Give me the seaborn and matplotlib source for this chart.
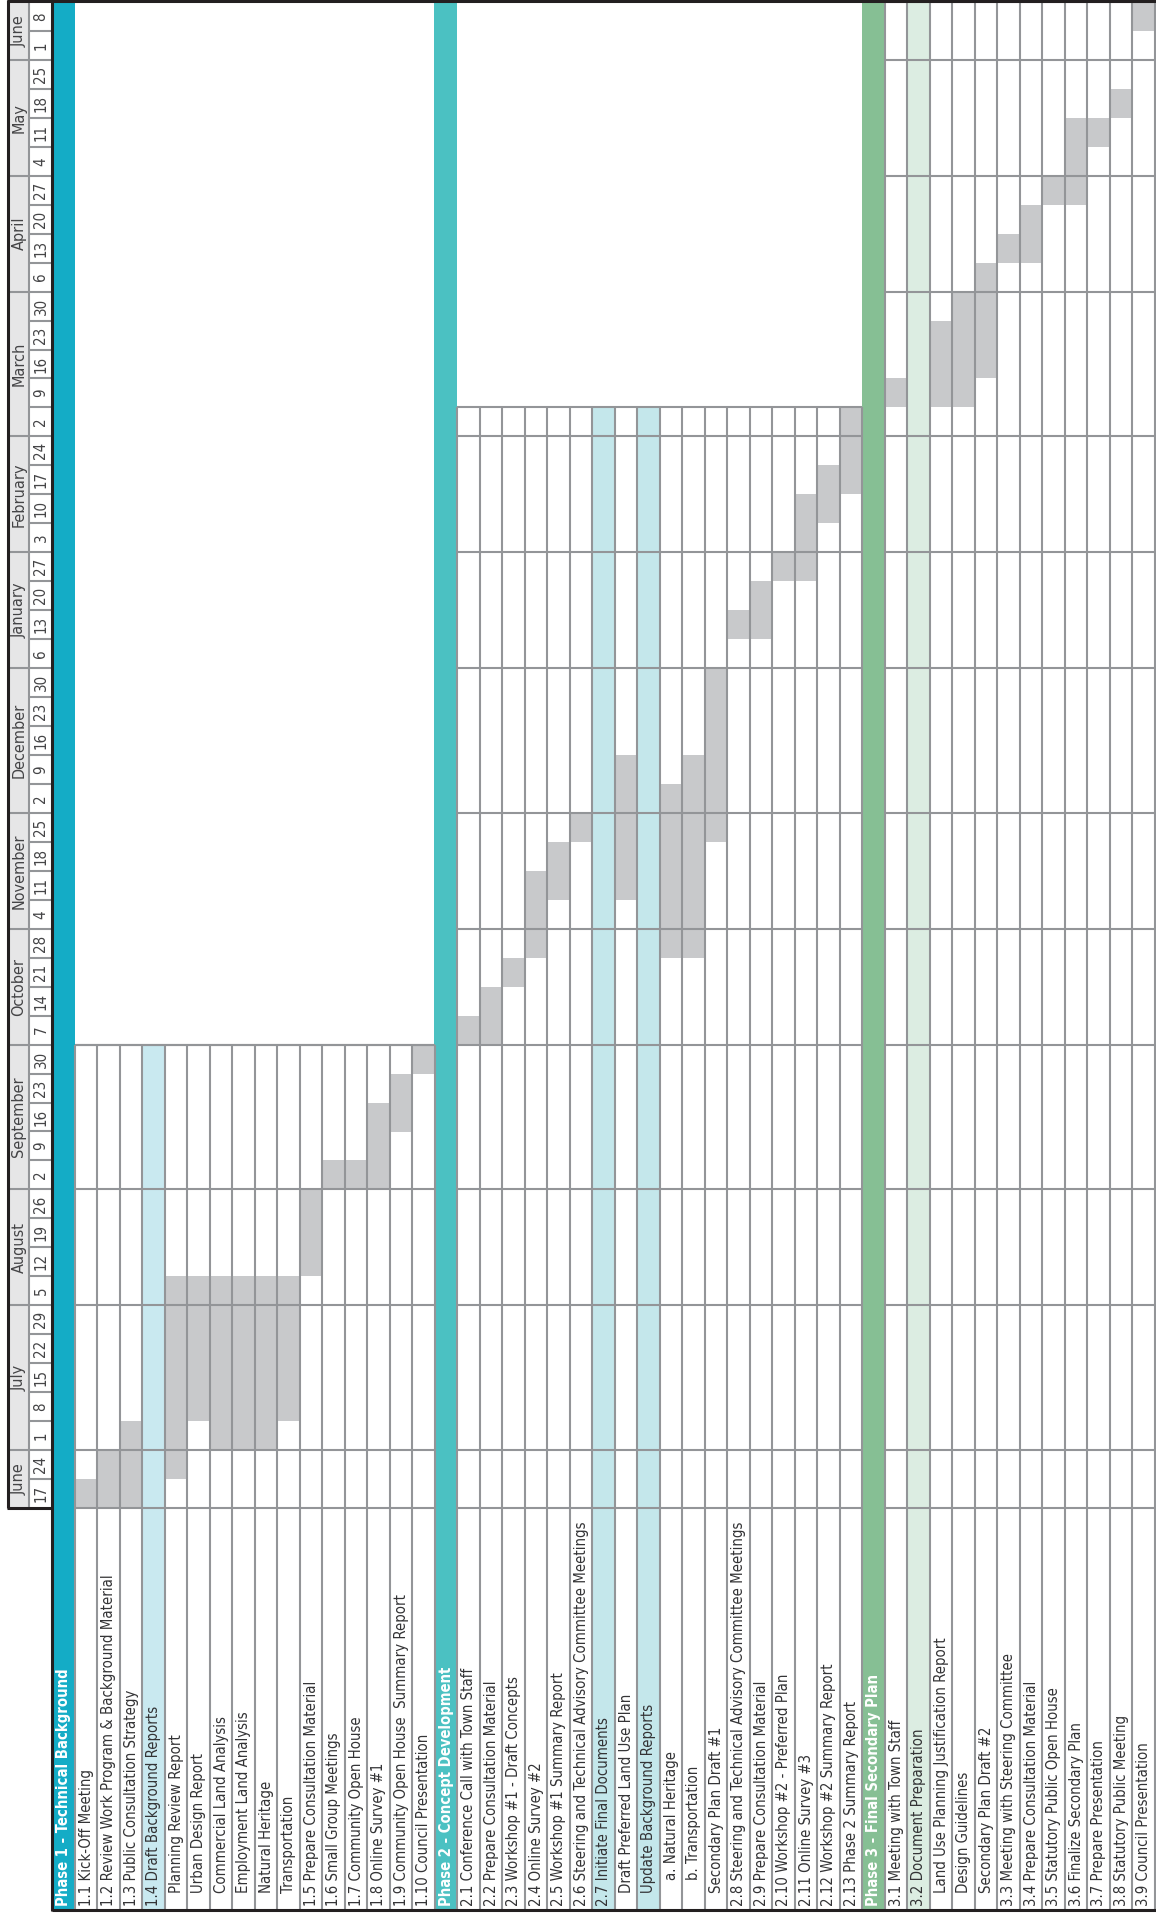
import numpy as np
import pandas as pd
import matplotlib
matplotlib.use("Agg")
import matplotlib.pyplot as plt
from matplotlib import font_manager
from matplotlib.colors import ListedColormap
from matplotlib.patches import Rectangle
import seaborn as sns

# ---- data ----
months = ["June", "July", "August", "September", "October", "November", "December",
          "January", "February", "March", "April", "May", "June"]
# monday of each week, a new month starts where the day number drops
week_days = [17, 24,
             1, 8, 15, 22, 29,
             5, 12, 19, 26,
             2, 9, 16, 23, 30,
             7, 14, 21, 28,
             4, 11, 18, 25,
             2, 9, 16, 23, 30,
             6, 13, 20, 27,
             3, 10, 17, 24,
             2, 9, 16, 23, 30,
             6, 13, 20, 27,
             4, 11, 18, 25,
             1, 8]

tasks = ["Phase 1 - Technical Background",
         "1.1 Kick-Off Meeting",
         "1.2 Review Work Program & Background Material",
         "1.3 Public Consultation Strategy",
         "1.4 Draft Background Reports",
         "Planning Review Report",
         "Urban Design Report",
         "Commercial Land Analysis",
         "Employment Land Analysis",
         "Natural Heritage",
         "Transportation",
         "1.5 Prepare Consultation Material",
         "1.6 Small Group Meetings",
         "1.7 Community Open House",
         "1.8 Online Survey #1",
         "1.9 Community Open House  Summary Report",
         "1.10 Council Presentation",
         "Phase 2 - Concept Development",
         "2.1 Conference Call with Town Staff",
         "2.2 Prepare Consultation Material",
         "2.3 Workshop #1 - Draft Concepts",
         "2.4 Online Survey #2",
         "2.5 Workshop #1 Summary Report",
         "2.6 Steering and Technical Advisory Committee Meetings",
         "2.7 Initiate Final Documents",
         "Draft Preferred Land Use Plan",
         "Update Background Reports",
         "a. Natural Heritage",
         "b. Transportation",
         "Secondary Plan Draft #1",
         "2.8 Steering and Technical Advisory Committee Meetings",
         "2.9 Prepare Consultation Material",
         "2.10 Workshop #2 - Preferred Plan",
         "2.11 Online Survey #3",
         "2.12 Workshop #2 Summary Report",
         "2.13 Phase 2 Summary Report",
         "Phase 3 - Final Secondary Plan",
         "3.1 Meeting with Town Staff",
         "3.2 Document Preparation",
         "Land Use Planning Justification Report",
         "Design Guidelines",
         "Secondary Plan Draft #2",
         "3.3 Meeting with Steering Committee",
         "3.4 Prepare Consultation Material",
         "3.5 Statutory Public Open House",
         "3.6 Finalize Secondary Plan",
         "3.7 Prepare Presentation",
         "3.8 Statutory Public Meeting",
         "3.9 Council Presentation"]

kinds = (["phase", "task", "task", "task", "sub"] + ["task"] * 12 +
         ["phase"] + ["task"] * 6 + ["sub", "task", "sub"] + ["task"] * 9 +
         ["phase", "task", "sub"] + ["task"] * 10)
indent = ([0] * 5 + [1] * 6 + [0] * 6 +
          [0] * 8 + [1, 1, 2, 2, 1] + [0] * 6 +
          [0, 0, 0, 1, 1, 1] + [0] * 7)
phase_of = [1] * 17 + [2] * 19 + [3] * 13

nan = np.nan
# first week index and end week index (exclusive), week 0 = June 17
start = [nan, 0, 0, 0, nan, 1, 3, 2, 2, 2, 3, 8, 11, 11, 11, 13, 15,
         nan, 16, 16, 18, 19, 21, 23, nan, 21, nan, 19, 19, 23, 30, 30, 32, 32, 34, 35,
         nan, 38, nan, 38, 38, 39, 43, 43, 45, 45, 47, 48, 51]
end = [nan, 1, 2, 3, nan, 8, 8, 8, 8, 8, 8, 11, 12, 12, 14, 15, 16,
       nan, 17, 18, 19, 22, 23, 24, nan, 26, nan, 25, 26, 29, 31, 32, 33, 35, 36, 38,
       nan, 39, nan, 41, 42, 43, 44, 45, 46, 48, 48, 49, 52]

# weeks covered by each phase's grid
phase_top = {1: 16, 2: 38, 3: 52}

# ---- style ----
BAR = "#c8c9cb"
LINE = "#939598"
phase_color = {1: "#14acc6", 2: "#4bc1c2", 3: "#86bf94"}
sub_color = {1: "#c9e9f0", 2: "#c4e7eb", 3: "#dcede2"}
TXT = "#333335"
HDR = "#444446"

sns.set_theme(style="white")

# narrowest available family for the long labels
available = {f.name for f in font_manager.fontManager.ttflist}
condensed = any(f.name == "DejaVu Sans" and f.stretch in ("condensed", 87.5, "semi-condensed")
                for f in font_manager.fontManager.ttflist)
if "Liberation Sans Narrow" in available:
    plt.rcParams["font.family"] = ["Liberation Sans Narrow", "DejaVu Sans"]
elif condensed:
    plt.rcParams["font.family"] = ["DejaVu Sans"]
    plt.rcParams["font.stretch"] = "condensed"
elif "Roboto" in available:
    plt.rcParams["font.family"] = ["Roboto", "DejaVu Sans"]
else:
    plt.rcParams["font.family"] = ["DejaVu Sans"]

W, H = 1156, 1917
X0, CW = 52, 22.5
YT, YB = 2, 1508
LB = 1910
n_weeks = len(week_days)
ncol = len(tasks)
RH = (YB - YT) / n_weeks
LW = 1.5
BLW = 2.2


def cx(c):
    return X0 + c * CW


def wy(w):
    return YB - w * RH


fig = plt.figure(figsize=(W / 100, H / 100), dpi=100)
renderer = fig.canvas.get_renderer()


def fit_size(s, target_px, size, weight="normal"):
    t = fig.text(0, 0, s, fontsize=size, fontweight=weight)
    w = t.get_window_extent(renderer=renderer).width
    t.remove()
    return size * min(1.0, target_px / w)


fs_label = fit_size(tasks[2], 328, 13.5)
fs_phase = fit_size(tasks[0], 236, 13.5, "bold")
fs_month = fit_size("September", 80, 13)
fs_week = fit_size("25", 17, 13)

# category matrix for the heatmap: 0 empty, 1 bar, 2-4 sub header, 5-7 phase header
palette = ["#ffffff", BAR, sub_color[1], sub_color[2], sub_color[3],
           phase_color[1], phase_color[2], phase_color[3]]
cat = np.zeros((n_weeks, ncol), dtype=int)
for c in range(ncol):
    p = phase_of[c]
    if kinds[c] == "phase":
        cat[:, c] = 4 + p
    elif kinds[c] == "sub":
        cat[:phase_top[p], c] = 1 + p
    elif not np.isnan(start[c]):
        cat[int(start[c]):int(end[c]), c] = 1
grid = pd.DataFrame(cat[::-1], columns=tasks)

axh = fig.add_axes([X0 / W, 1 - YB / H, ncol * CW / W, (YB - YT) / H])
sns.heatmap(grid, cmap=ListedColormap(palette), vmin=-0.5, vmax=len(palette) - 0.5,
            cbar=False, xticklabels=False, yticklabels=False, linewidths=0, ax=axh)
axh.set_axis_off()

ax = fig.add_axes([0, 0, 1, 1])
ax.set_xlim(0, W)
ax.set_ylim(H, 0)
ax.set_axis_off()

# label strip backgrounds
for c in range(ncol):
    p = phase_of[c]
    if kinds[c] == "phase":
        ax.add_patch(Rectangle((cx(c), YB), CW, LB - YB, color=phase_color[p], lw=0))
    elif kinds[c] == "sub":
        ax.add_patch(Rectangle((cx(c), YB), CW, LB - YB, color=sub_color[p], lw=0))

# month boundaries from the week list
mstarts = [0] + [i for i in range(1, n_weeks) if week_days[i] < week_days[i - 1]]
mends = mstarts[1:] + [n_weeks]

# grid lines per phase
for p in (1, 2, 3):
    cols = [c for c in range(ncol) if phase_of[c] == p]
    c0, c1 = cols[0], cols[-1]
    top = phase_top[p]
    for c in range(c0 + 1, c1 + 2):
        ax.vlines(cx(c), wy(top), LB, colors=LINE, lw=LW)
    for b in [0] + mstarts[1:] + [top]:
        if b <= top:
            ax.hlines(wy(b), cx(c0 + 1), cx(c1 + 1), colors=LINE, lw=LW)

# task labels
for c, name in enumerate(tasks):
    if kinds[c] == "phase":
        ax.text(cx(c) + CW / 2 + 0.5, LB - 4, name, rotation=90, ha="center", va="bottom",
                fontsize=fs_phase, fontweight="bold", color="white")
    else:
        ax.text(cx(c) + CW / 2 + 0.5, LB - 4 - indent[c] * 13, name, rotation=90,
                ha="center", va="bottom", fontsize=fs_label, color=TXT)

# header strip: months and week days
MX0, MX1 = 8, 29
ax.add_patch(Rectangle((MX0, YT), MX1 - MX0, YB - YT, color="#e6e6e7", lw=0))
for i in range(1, n_weeks):
    if i in mstarts:
        ax.hlines(wy(i), MX0, X0, colors=LINE, lw=LW)
    else:
        ax.hlines(wy(i), MX1, X0, colors=LINE, lw=LW)
ax.vlines(MX1, YT, YB, colors=LINE, lw=LW)
for name, s, e in zip(months, mstarts, mends):
    ax.text((MX0 + MX1) / 2 + 0.5, wy((s + e) / 2), name, rotation=90, ha="center",
            va="center", fontsize=fs_month, color=HDR)
for i, d in enumerate(week_days):
    ax.text((MX1 + X0) / 2 + 0.5, wy(i + 0.5), str(d), rotation=90, ha="center",
            va="center", fontsize=fs_week, color=HDR)

# black frame
ax.hlines(1.5, 6.5, W, colors="#231f20", lw=BLW)
ax.vlines(7.5, 0.5, YB, colors="#231f20", lw=BLW)
ax.hlines(YB, 6.5, X0, colors="#231f20", lw=BLW)
ax.vlines(X0, 0.5, LB + 1, colors="#231f20", lw=BLW)
ax.hlines(LB, X0, W, colors="#231f20", lw=BLW)

fig.savefig("out.png", dpi=100)
